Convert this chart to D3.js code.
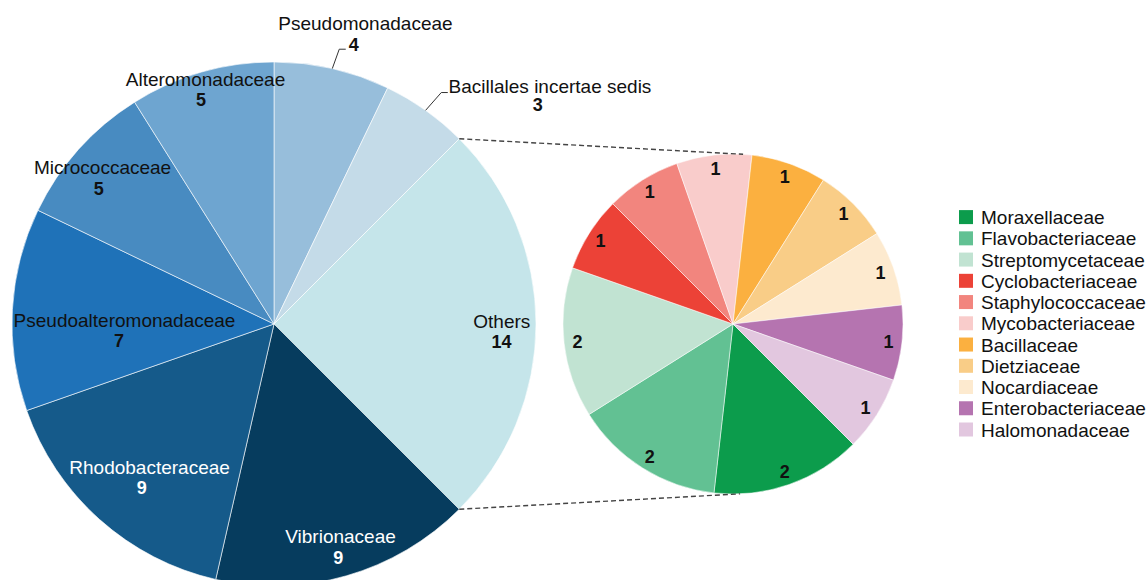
<!DOCTYPE html>
<html>
<head>
<meta charset="utf-8">
<script src="https://cdn.jsdelivr.net/npm/d3@7"></script>
<style>
  html, body { margin: 0; padding: 0; background: #fff; }
  svg { display: block; font-family: "Liberation Sans", Arial, sans-serif; }
</style>
</head>
<body>
<svg id="chart" width="1148" height="580"></svg>
<script>
// Main pie: bacterial families (count of isolates)
const mainFamilies = ["Pseudomonadaceae", "Bacillales incertae sedis", "Others", "Vibrionaceae",
  "Rhodobacteraceae", "Pseudoalteromonadaceae", "Micrococcaceae", "Alteromonadaceae"];
const mainCounts = [4, 3, 14, 9, 9, 7, 5, 5];
const mainColors = ["#97bedb", "#c4dbe8", "#c5e5ea", "#063c5e", "#155a8a", "#1f72b8", "#488bc1", "#6ea5d0"];
const mainTextColors = ["#111", "#111", "#111", "#fff", "#fff", "#111", "#111", "#111"];

// Secondary pie: breakdown of "Others"
const otherFamilies = ["Moraxellaceae", "Flavobacteriaceae", "Streptomycetaceae", "Cyclobacteriaceae",
  "Staphylococcaceae", "Mycobacteriaceae", "Bacillaceae", "Dietziaceae", "Nocardiaceae",
  "Enterobacteriaceae", "Halomonadaceae"];
const otherCounts = [2, 2, 2, 1, 1, 1, 1, 1, 1, 1, 1];
const otherColors = ["#0c9c4c", "#62c193", "#c1e3d2", "#ec4237", "#f2857e", "#f9cccb",
  "#fbb040", "#f9cd87", "#fdeacf", "#b574b0", "#e2c7df"];

// Label placement for the main pie (angle nudge in degrees, radius fraction, number offset)
const mainLabelLayout = [
  { outside: true, elbowK: 1.078, nameDx: 19.7, nameDy: -19.3, numDx: 8, numDy: 1.7 },
  { outside: true, elbowK: 1.09, nameDx: 102.2, nameDy: 0.4, numDx: 90, numDy: 18.4 },
  { da: 1.8, k: 0.87, numDx: -0.4 },
  { da: -0.56, k: 0.887, numDx: -2.2 },
  { da: -2.7, k: 0.753, numDx: -7.8 },
  { da: -5.5, k: 0.571, numDx: -5.5 },
  { da: -1.25, k: 0.861, numDx: -3.8 },
  { da: -0.17, k: 0.935, numDx: -4.5 }
];

const svg = d3.select("#chart");
const W = 1148, H = 580;

const mainC = { x: 274, y: 324 }, mainR = 262;
const subC = { x: 733, y: 324 }, subR = 170;

const rad = d => d * Math.PI / 180;
const polar = (c, r, a) => [c.x + r * Math.sin(a), c.y - r * Math.cos(a)];

// ---- main pie ----
const mainPie = d3.pie().sort(null).value(d => d.v).startAngle(0).endAngle(2 * Math.PI);
const mainArcs = mainPie(mainFamilies.map((n, i) => ({ n, v: mainCounts[i], i })));
const mainArc = d3.arc().innerRadius(0).outerRadius(mainR);

const gMain = svg.append("g").attr("transform", `translate(${mainC.x},${mainC.y})`);
gMain.selectAll("path").data(mainArcs).join("path")
  .attr("d", mainArc)
  .attr("fill", d => mainColors[d.data.i])
  .attr("stroke", "#fff").attr("stroke-width", 0.6);

// ---- secondary pie ----
const subStart = 3 * Math.PI / 4;
const subPie = d3.pie().sort(null).value(d => d.v).startAngle(subStart).endAngle(subStart + 2 * Math.PI);
const subArcs = subPie(otherFamilies.map((n, i) => ({ n, v: otherCounts[i], i })));
const subArc = d3.arc().innerRadius(0).outerRadius(subR);

const gSub = svg.append("g").attr("transform", `translate(${subC.x},${subC.y})`);
gSub.selectAll("path").data(subArcs).join("path")
  .attr("d", subArc)
  .attr("fill", d => otherColors[d.data.i])
  .attr("stroke", "#fff").attr("stroke-width", 0.5);

// ---- connector lines from "Others" slice to the secondary pie ----
const othersArc = mainArcs[mainFamilies.indexOf("Others")];
const connectors = [
  [polar(mainC, mainR, othersArc.startAngle), polar(subC, subR, rad(3.4))],
  [polar(mainC, mainR, othersArc.endAngle), polar(subC, subR, rad(177.6))]
];
svg.append("g").selectAll("line").data(connectors).join("line")
  .attr("x1", d => d[0][0]).attr("y1", d => d[0][1])
  .attr("x2", d => d[1][0]).attr("y2", d => d[1][1])
  .attr("stroke", "#444").attr("stroke-width", 1.4)
  .attr("stroke-dasharray", "5,3");

// ---- main pie labels ----
const gLab = svg.append("g");
mainArcs.forEach(a => {
  const i = a.data.i, L = mainLabelLayout[i];
  const mid = (a.startAngle + a.endAngle) / 2;
  let nx, ny, mx, my;
  if (L.outside) {
    const p0 = polar(mainC, mainR, mid);
    const p1 = polar(mainC, mainR * L.elbowK, mid + rad(0.5));
    const p2 = [p1[0] + 6.5, p1[1]];
    gLab.append("polyline")
      .attr("points", [p0, p1, p2].map(p => p.join(",")).join(" "))
      .attr("fill", "none").attr("stroke", "#333").attr("stroke-width", 1);
    nx = p2[0] + L.nameDx; ny = p2[1] + L.nameDy;
    mx = p2[0] + L.numDx; my = p2[1] + L.numDy;
  } else {
    const c = polar(mainC, mainR * L.k, mid + rad(L.da));
    nx = c[0]; ny = c[1] - 3.3;
    mx = c[0] + L.numDx; my = c[1] + 17.2;
  }
  gLab.append("text")
    .attr("x", nx).attr("y", ny)
    .attr("text-anchor", "middle")
    .attr("font-size", 19)
    .attr("fill", mainTextColors[i])
    .text(a.data.n);
  gLab.append("text")
    .attr("x", mx).attr("y", my)
    .attr("text-anchor", "middle")
    .attr("font-size", 18).attr("font-weight", "bold")
    .attr("fill", mainTextColors[i])
    .text(a.data.v);
});

// ---- secondary pie labels ----
gSub.selectAll("text").data(subArcs).join("text")
  .attr("transform", d => {
    const mid = (d.startAngle + d.endAngle) / 2;
    return `translate(${subR * 0.92 * Math.sin(mid)},${-subR * 0.92 * Math.cos(mid) + 6.6})`;
  })
  .attr("text-anchor", "middle")
  .attr("font-size", 18).attr("font-weight", "bold")
  .attr("fill", "#111")
  .text(d => d.data.v);

// ---- legend ----
const rowY = d3.scalePoint().domain(otherFamilies).range([217.6, 430]);
const legend = svg.append("g");
const rows = legend.selectAll("g").data(otherFamilies).join("g")
  .attr("transform", d => `translate(959,${rowY(d)})`);
rows.append("rect")
  .attr("x", 0).attr("y", -7.5).attr("width", 14).attr("height", 14)
  .attr("fill", (d, i) => otherColors[i]);
rows.append("text")
  .attr("x", 22).attr("y", 6.5)
  .attr("font-size", 19).attr("fill", "#111")
  .text(d => d);
</script>
</body>
</html>
